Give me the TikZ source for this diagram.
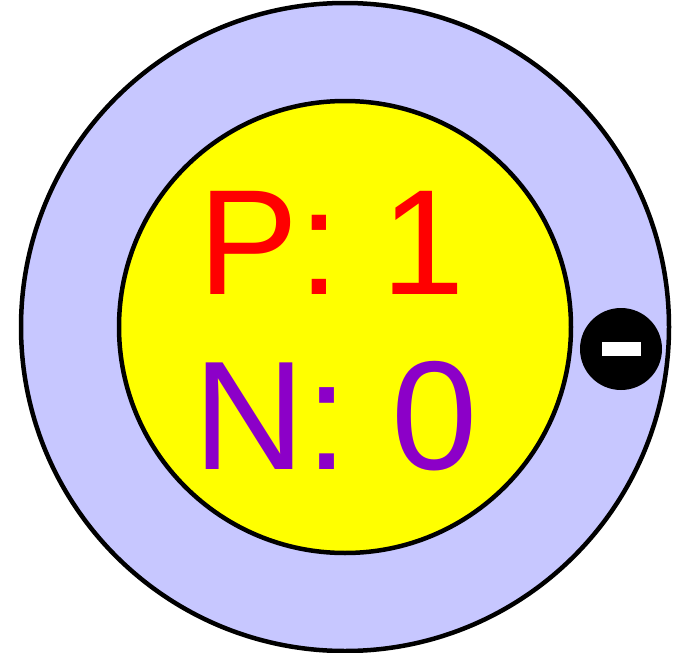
\documentclass[tikz,border=0pt]{standalone}
\usepackage{fontspec}
\setmainfont{Liberation Sans}
\usepackage{tikz}

\begin{document}
\begin{tikzpicture}[x=1pt, y=-1pt, line cap=round, line join=round]

  \def\Ro{324}        % outer shell radius
  \def\Ri{226}        % nucleus radius
  \def\Re{41}         % electron radius

  % Colors
  \colorlet{shellBlue}{blue!22}
  \definecolor{nucleusYellow}{RGB}{255,255,0}
  \definecolor{protonRed}{RGB}{255,0,0}
  \definecolor{neutronPurple}{RGB}{140,0,200}

  \useasboundingbox (0,0) rectangle (675,653);

  % Key points
  \coordinate (O)  at (345,327);
  \coordinate (e)  at (621,349);

  % Electron shell
  \draw[line width=4.5pt, fill=shellBlue] (O) circle[radius=\Ro pt];

  % Nucleus
  \draw[line width=4.5pt, fill=nucleusYellow] (O) circle[radius=\Ri pt];

  % Proton and neutron counts
  \node[anchor=base, inner sep=0pt, text=protonRed,
        font=\fontsize{150}{150}\selectfont] (p) at (332,294) {P: 1};
  \node[anchor=base, inner sep=0pt, text=neutronPurple,
        font=\fontsize{155}{155}\selectfont] (n) at (336,469) {N: 0};

  % Electron with minus sign
  \fill (e) circle[radius=\Re pt];
  \node[fill=white, inner sep=0pt, minimum width=39pt, minimum height=14pt] (minus) at (e) {};

\end{tikzpicture}
\end{document}
